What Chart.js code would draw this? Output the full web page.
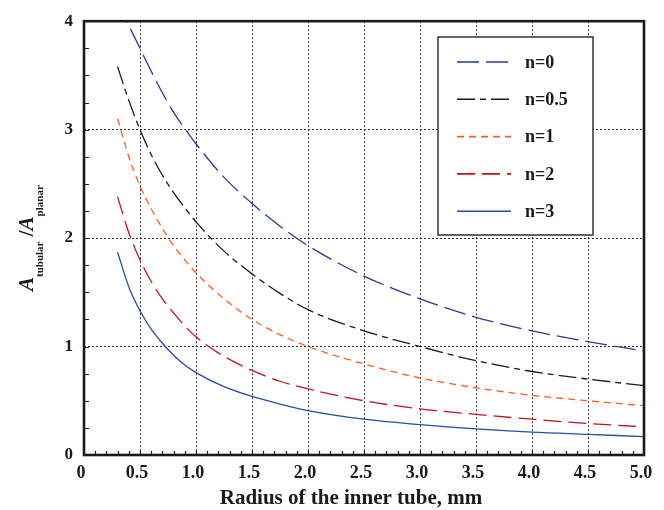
<!DOCTYPE html>
<html>
<head>
<meta charset="utf-8">
<script src="https://cdn.jsdelivr.net/npm/chart.js@4.4.0/dist/chart.umd.min.js"></script>
<style>
  html, body { margin: 0; padding: 0; background: #fff; }
</style>
</head>
<body>
<canvas id="chart" width="664" height="510"></canvas>
<script>
'use strict';

// radius of the inner tube, mm
const radius = [0.3, 0.4, 0.5, 0.6, 0.7, 0.8, 0.9, 1.0, 1.25, 1.5, 1.75, 2.0, 2.5, 3.0, 3.5, 4.0, 4.5, 5.0];

// A_tubular / A_planar for each n
const ratioN0  = [4.17, 3.96, 3.75, 3.54, 3.34, 3.16, 3.01, 2.87, 2.56, 2.32, 2.11, 1.93, 1.65, 1.44, 1.27, 1.145, 1.045, 0.96];
const ratioN05 = [3.58, 3.27, 3.00, 2.77, 2.58, 2.42, 2.28, 2.15, 1.88, 1.67, 1.49, 1.34, 1.145, 1.00, 0.87, 0.77, 0.70, 0.64];
const ratioN1  = [3.10, 2.75, 2.48, 2.27, 2.09, 1.93, 1.80, 1.68, 1.44, 1.25, 1.11, 1.00, 0.84, 0.71, 0.62, 0.55, 0.50, 0.455];
const ratioN2  = [2.38, 2.05, 1.80, 1.60, 1.44, 1.31, 1.19, 1.09, 0.91, 0.78, 0.68, 0.61, 0.50, 0.426, 0.375, 0.33, 0.29, 0.26];
const ratioN3  = [1.87, 1.55, 1.33, 1.16, 1.03, 0.92, 0.83, 0.76, 0.63, 0.54, 0.47, 0.41, 0.33, 0.28, 0.24, 0.21, 0.19, 0.17];

const seriesNames = ['n=0', 'n=0.5', 'n=1', 'n=2', 'n=3'];
const xTickLabels = ['0', '0.5', '1.0', '1.5', '2.0', '2.5', '3.0', '3.5', '4.0', '4.5', '5.0'];
const yTickLabels = ['0', '1', '2', '3', '4'];

const serif = "'Liberation Serif', 'Times New Roman', serif";

function toPoints(ys) {
  return radius.map((r, i) => ({ x: r, y: ys[i] }));
}

const styles = [
  { color: '#2b3a92', dash: [22, 7] },
  { color: '#1a1a1a', dash: [18, 5, 6, 5] },
  { color: '#ff5b22', dash: [7, 5] },
  { color: '#c4121d', dash: [18, 7] },
  { color: '#22509e', dash: [] },
];

const allSeries = [ratioN0, ratioN05, ratioN1, ratioN2, ratioN3];

const datasets = allSeries.map((ys, i) => ({
  label: seriesNames[i],
  data: toPoints(ys),
  showLine: true,
  borderColor: styles[i].color,
  borderDash: styles[i].dash,
  borderWidth: 1.3,
  pointRadius: 0,
  cubicInterpolationMode: 'monotone',
  fill: false,
}));

// inward minor ticks and the heavy frame round the plot
const framePlugin = {
  id: 'frame',
  afterDatasetsDraw(chart) {
    const { ctx, chartArea: a, scales: { x, y } } = chart;
    ctx.save();
    ctx.strokeStyle = '#222';
    ctx.lineWidth = 1.2;
    ctx.setLineDash([]);
    ctx.beginPath();
    for (let i = 1; i < 50; i++) {
      const px = Math.round(x.getPixelForValue(i / 10)) + 0.5;
      ctx.moveTo(px, a.bottom);
      ctx.lineTo(px, a.bottom - 4);
    }
    for (let i = 1; i < 16; i++) {
      const py = Math.round(y.getPixelForValue(i / 4)) + 0.5;
      ctx.moveTo(a.left, py);
      ctx.lineTo(a.left + 5, py);
    }
    ctx.stroke();
    ctx.lineWidth = 2.6;
    ctx.strokeStyle = '#1a1a1a';
    ctx.strokeRect(a.left, a.top, a.right - a.left, a.bottom - a.top);
    ctx.restore();
  }
};

// boxed legend in the upper right
const legendPlugin = {
  id: 'boxLegend',
  afterDraw(chart) {
    const ctx = chart.ctx;
    const box = { x: 438, y: 37, w: 155, h: 198 };
    ctx.save();
    ctx.fillStyle = '#fff';
    ctx.fillRect(box.x, box.y, box.w, box.h);
    ctx.strokeStyle = '#333';
    ctx.lineWidth = 1.5;
    ctx.strokeRect(box.x, box.y, box.w, box.h);
    ctx.font = 'bold 18px ' + serif;
    ctx.textBaseline = 'middle';
    ctx.textAlign = 'left';
    chart.data.datasets.forEach((ds, i) => {
      const rowY = 62 + i * 37.3;
      ctx.strokeStyle = ds.borderColor;
      ctx.lineWidth = 1.6;
      ctx.setLineDash(ds.borderDash);
      ctx.beginPath();
      ctx.moveTo(457, rowY);
      ctx.lineTo(511, rowY);
      ctx.stroke();
      ctx.setLineDash([]);
      ctx.fillStyle = '#1a1a1a';
      ctx.fillText(ds.label, 525, rowY + 1);
    });
    ctx.restore();
  }
};

// axis titles, with subscripts on the y title
const titlePlugin = {
  id: 'axisTitles',
  afterDraw(chart) {
    const { ctx, chartArea: a } = chart;
    ctx.save();
    ctx.fillStyle = '#1a1a1a';
    ctx.font = 'bold 21px ' + serif;
    ctx.textAlign = 'center';
    ctx.textBaseline = 'alphabetic';
    ctx.fillText('Radius of the inner tube, mm', 351, 504);

    const big = 'italic bold 21px ' + serif;
    const slash = 'bold 21px ' + serif;
    const small = 'bold 11px ' + serif;
    const parts = [
      { t: 'A', f: big, dy: 0 },
      { t: 'tubular', f: small, dy: 10 },
      { t: ' /', f: slash, dy: 0 },
      { t: 'A', f: big, dy: 0 },
      { t: 'planar', f: small, dy: 10 },
    ];
    let total = 0;
    parts.forEach(p => { ctx.font = p.f; p.w = ctx.measureText(p.t).width; total += p.w; });
    ctx.translate(33, (a.top + a.bottom) / 2);
    ctx.rotate(-Math.PI / 2);
    ctx.textAlign = 'left';
    let cx = -total / 2;
    parts.forEach(p => {
      ctx.font = p.f;
      ctx.fillText(p.t, cx, p.dy);
      cx += p.w;
    });
    ctx.restore();
  }
};

new Chart(document.getElementById('chart'), {
  type: 'scatter',
  data: { datasets },
  options: {
    responsive: false,
    animation: false,
    devicePixelRatio: 1,
    layout: { padding: { top: 16, right: 20, left: 0, bottom: 0 } },
    plugins: { legend: { display: false }, tooltip: { enabled: false } },
    scales: {
      x: {
        type: 'linear',
        min: 0,
        max: 5,
        afterFit(scale) { scale.height = 55; },
        ticks: {
          stepSize: 0.5,
          padding: 8,
          labelOffset: -3,
          color: '#1a1a1a',
          font: { family: serif, size: 18, weight: 'bold' },
          maxRotation: 0,
          callback: v => xTickLabels[Math.round(v / 0.5)],
        },
        grid: { color: '#333', lineWidth: 1, drawTicks: false },
        border: { display: false, dash: [2, 2] },
      },
      y: {
        type: 'linear',
        min: 0,
        max: 4,
        afterFit(scale) { scale.width = 84; },
        ticks: {
          stepSize: 1,
          padding: 11,
          color: '#1a1a1a',
          font: { family: serif, size: 17, weight: 'bold' },
          callback: v => yTickLabels[v],
        },
        grid: { color: '#333', lineWidth: 1, drawTicks: false },
        border: { display: false, dash: [2, 2] },
      },
    },
  },
  plugins: [framePlugin, legendPlugin, titlePlugin],
});
</script>
</body>
</html>
